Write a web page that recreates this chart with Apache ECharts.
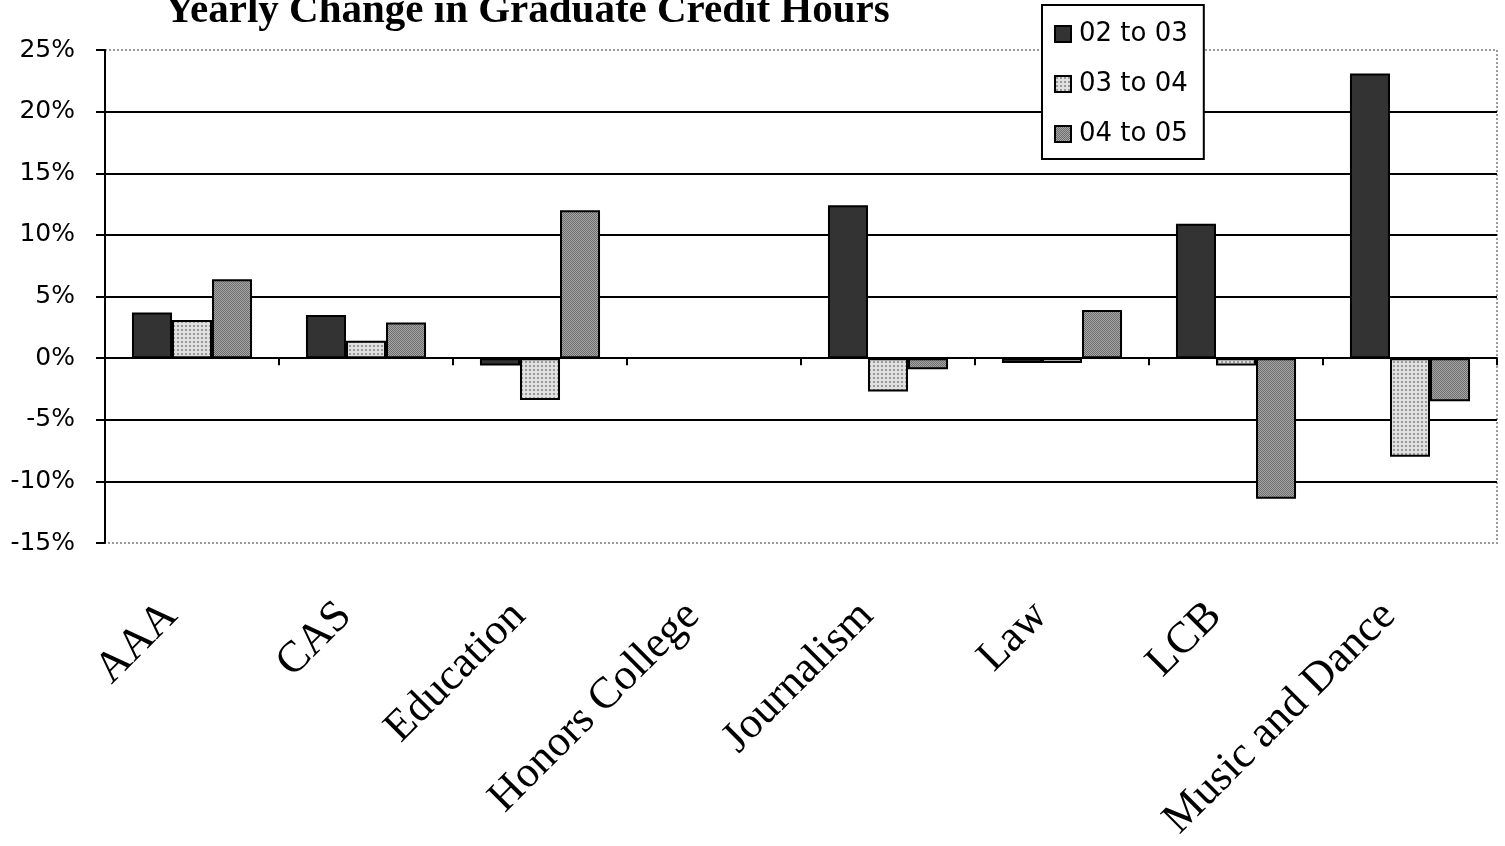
<!DOCTYPE html>
<html lang="en">
<head>
	<meta charset="UTF-8">
	<title>Yearly Change in Graduate Credit Hours</title>
	<script src="https://cdn.jsdelivr.net/npm/echarts@6/dist/echarts.min.js"></script>
	<style>
		html, body { margin: 0; padding: 0; width: 100%; height: 100%; background: #fff; }
		#chart { width: 1505px; height: 846px; }
	</style>
</head>
<body>
	<div id="chart"></div>
	<script>
		// chart data (percent change)
		var categories = ['AAA', 'CAS', 'Education', 'Honors College', 'Journalism', 'Law', 'LCB', 'Music and Dance'];
		var seriesNames = ['02 to 03', '03 to 04', '04 to 05'];
		var y0203 = [3.7, 3.5, -0.6, null, 12.4, -0.4, 10.9, 23.1];
		var y0304 = [3.1, 1.4, -3.4, null, -2.7, -0.4, -0.6, -8.0];
		var y0405 = [6.4, 2.9, 12.0, null, -0.9, 3.9, -11.4, -3.5];
		var yTicks = { min: -15, max: 25, step: 5 };

		// little dotted fills like the old spreadsheet patterns
		function dots(bg, fg, size, step) {
			var c = document.createElement('canvas');
			c.width = step; c.height = step;
			var ctx = c.getContext('2d');
			ctx.fillStyle = bg;
			ctx.fillRect(0, 0, step, step);
			ctx.fillStyle = fg;
			ctx.fillRect(1, 1, size, size);
			return { image: c, repeat: 'repeat' };
		}
		function checker(a, b) {
			var c = document.createElement('canvas');
			c.width = 2; c.height = 2;
			var ctx = c.getContext('2d');
			ctx.fillStyle = a; ctx.fillRect(0, 0, 2, 2);
			ctx.fillStyle = b; ctx.fillRect(0, 0, 1, 1); ctx.fillRect(1, 1, 1, 1);
			return { image: c, repeat: 'repeat' };
		}

		var fills = ['#333333', dots('#e0e0e0', '#999999', 2, 4), checker('#a6a6a6', '#6e6e6e')];
		var values = [y0203, y0304, y0405];

		var myChart = echarts.init(document.getElementById('chart'));

		var series = [];
		for (var i = 0; i < seriesNames.length; i++) {
			series.push({
				name: seriesNames[i],
				type: 'bar',
				xAxisIndex: 0,
				data: values[i],
				barGap: '0%',
				barCategoryGap: '31%',
				itemStyle: { color: fills[i], borderColor: '#000', borderWidth: 2 }
			});
		}

		var option = {
			animation: false,
			backgroundColor: '#fff',
			title: {
				text: 'Yearly Change in Graduate Credit Hours',
				left: 160,
				top: -14,
				textStyle: { fontFamily: 'Liberation Serif', fontWeight: 'bold', fontSize: 41, color: '#000' }
			},
			legend: {
				orient: 'vertical',
				left: 1042,
				top: 5,
				icon: 'rect',
				itemWidth: 16,
				itemHeight: 16,
				itemGap: 24,
				padding: [16, 16, 12, 12],
				backgroundColor: '#fff',
				borderColor: '#000',
				borderWidth: 2,
				textStyle: { fontFamily: 'DejaVu Sans', fontSize: 26, color: '#000', padding: [0, 0, 0, 3] },
				data: seriesNames
			},
			grid: {
				left: 105, right: 8, top: 50, bottom: 303,
				show: true,
				borderColor: '#9a9a9a',
				borderWidth: 2,
				borderType: 'dotted'
			},
			xAxis: [{
				type: 'category',
				data: categories,
				position: 'bottom',
				axisLine: { onZero: true, lineStyle: { color: '#000', width: 2 } },
				axisTick: { show: true, length: 7, lineStyle: { color: '#000', width: 2 } },
				axisLabel: { show: false },
				splitLine: { show: false }
			}, {
				type: 'category',
				data: categories,
				position: 'bottom',
				axisLine: { show: false, onZero: false },
				axisTick: { show: false },
				axisLabel: {
					interval: 0,
					rotate: 45,
					margin: 45,
					padding: [0, 30, 0, 0],
					fontFamily: 'Liberation Serif',
					fontSize: 44,
					color: '#000'
				}
			}],
			yAxis: {
				type: 'value',
				min: yTicks.min,
				max: yTicks.max,
				interval: yTicks.step,
				axisLine: { show: true, lineStyle: { color: '#000', width: 2 } },
				axisTick: { show: true, length: 9, lineStyle: { color: '#000', width: 2 } },
				axisLabel: {
					formatter: '{value}%',
					margin: 30,
					fontFamily: 'DejaVu Sans',
					fontSize: 25,
					color: '#000'
				},
				splitLine: { show: true, showMinLine: false, showMaxLine: false, lineStyle: { color: '#000', width: 2 } }
			},
			series: series
		};

		myChart.setOption(option);
	</script>
</body>
</html>
